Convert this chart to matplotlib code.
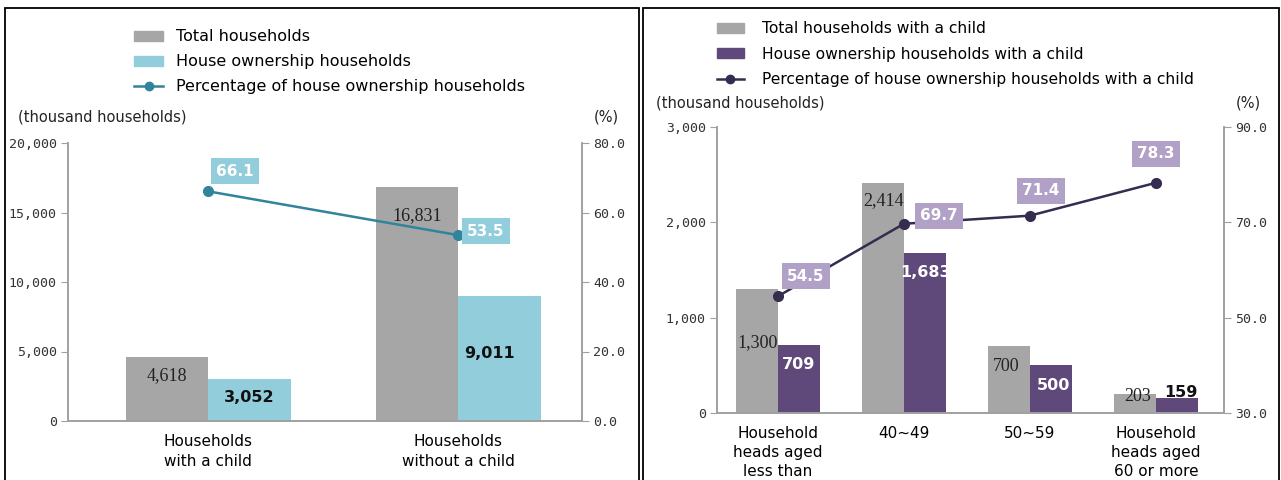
import numpy as np
import matplotlib.pyplot as plt
from matplotlib.patches import Patch, Rectangle
from matplotlib.lines import Line2D

# Left panel: households with / without a child
cats_l = ['Households\nwith a child', 'Households\nwithout a child']
total_l = [4618, 16831]
own_l = [3052, 9011]
pct_l = [66.1, 53.5]

# Right panel: households with a child by age of household head
cats_r = ['Household\nheads aged\nless than', '40~49', '50~59', 'Household\nheads aged\n60 or more']
total_r = [1300, 2414, 700, 203]
own_r = [709, 1683, 500, 159]
pct_r = [54.5, 69.7, 71.4, 78.3]

GRAY = '#a6a6a6'
CYAN = '#92cddc'
TEAL = '#31849b'
PURPLE = '#5f497a'
LAVENDER = '#b2a1c7'
NAVY = '#352c4f'
AXC = '#a0a0a0'

plt.rcParams['font.family'] = ['DejaVu Sans']
TICKFONT = 'DejaVu Sans Mono'

fig = plt.figure(figsize=(12.81, 4.80), dpi=100)

# panel frames
px = lambda x, y: (x / 1281, 1 - y / 480)
for x0, x1 in [(5, 639), (643, 1279)]:
    fig.patches.append(Rectangle(px(x0, 530), (x1 - x0) / 1281, 522 / 480,
                                 transform=fig.transFigure, fill=False,
                                 edgecolor='black', linewidth=1.3))


def style_axes(ax, ax2, spacing):
    for a in (ax, ax2):
        a.spines['top'].set_visible(False)
        for s in ('left', 'right', 'bottom'):
            a.spines[s].set_color(AXC)
            a.spines[s].set_linewidth(1.2)
    ax.tick_params(axis='y', direction='out', length=5, color=AXC, pad=3)
    ax2.tick_params(axis='y', direction='out', length=5, color=AXC, pad=3)
    ax.tick_params(axis='x', length=0, pad=9, labelsize=11)
    for lab in ax.get_xticklabels():
        lab.set_linespacing(spacing)
    for lab in ax.get_yticklabels() + ax2.get_yticklabels():
        lab.set_family(TICKFONT)
        lab.set_fontsize(9.5)
        lab.set_color('#333333')


def add_label(ax, x, y, text, dx, dy, **kw):
    ax.annotate(text, xy=(x, y), xytext=(dx * 0.72, dy * 0.72),
                textcoords='offset points', ha='center', va='center', **kw)


# ---------------- left panel ----------------
axL = fig.add_axes([68 / 1281, 1 - 421 / 480, 514 / 1281, 278 / 480])
axL2 = axL.twinx()
xl = np.arange(len(cats_l))
w = 0.33
axL.bar(xl - w / 2, total_l, w, color=GRAY)
axL.bar(xl + w / 2, own_l, w, color=CYAN)
axL.set_ylim(0, 20000)
axL.set_yticks(range(0, 20001, 5000))
axL.set_yticklabels([f'{v:,}' for v in range(0, 20001, 5000)])
axL.set_xlim(-0.56, 1.496)
axL.set_xticks(xl)
axL.set_xticklabels(cats_l)
axL2.plot(xl, pct_l, color=TEAL, linewidth=1.8, marker='o', markersize=7)
axL2.set_ylim(0, 80)
axL2.set_yticks(np.arange(0, 81, 20))
axL2.set_yticklabels([f'{v:.1f}' for v in np.arange(0, 81, 20)])
style_axes(axL, axL2, 1.45)

tot_off_l = [(0, -19), (0, -29)]
own_off_l = [(0, -19), (-10, -58)]
pct_off_l = [(27, 20), (28, 4)]
for i in range(len(cats_l)):
    add_label(axL, xl[i] - w / 2, total_l[i], f'{total_l[i]:,}', *tot_off_l[i],
              family='Liberation Serif', fontsize=13, color='#222222')
    add_label(axL, xl[i] + w / 2, own_l[i], f'{own_l[i]:,}', *own_off_l[i],
              fontsize=11.5, fontweight='bold', color='#111111')
    add_label(axL2, xl[i], pct_l[i], f'{pct_l[i]:.1f}', *pct_off_l[i],
              fontsize=11, fontweight='bold', color='white',
              bbox=dict(boxstyle='square,pad=0.35', facecolor=CYAN, edgecolor='none'))

fig.text(18 / 1281, 1 - 117 / 480, '(thousand households)', fontsize=10.5,
         ha='left', va='center', color='#222222')
fig.text(606 / 1281, 1 - 117 / 480, '(%)', fontsize=10.5, ha='center',
         va='center', color='#222222')

handlesL = [Patch(color=GRAY), Patch(color=CYAN),
            Line2D([], [], color=TEAL, linewidth=1.8, marker='o', markersize=6)]
fig.legend(handlesL, ['Total households', 'House ownership households',
                      'Percentage of house ownership households'],
           loc='upper left', bbox_to_anchor=(128 / 1281, 1 - 23 / 480),
           frameon=False, fontsize=11.5, handlelength=1.8, handleheight=0.6,
           labelspacing=0.62, handletextpad=0.8, borderaxespad=0)

# ---------------- right panel ----------------
axR = fig.add_axes([717 / 1281, 1 - 413 / 480, 507 / 1281, 286 / 480])
axR2 = axR.twinx()
xr = np.arange(len(cats_r))
axR.bar(xr - w / 2, total_r, w, color=GRAY)
axR.bar(xr + w / 2, own_r, w, color=PURPLE)
axR.set_ylim(0, 3000)
axR.set_yticks(range(0, 3001, 1000))
axR.set_yticklabels([f'{v:,}' for v in range(0, 3001, 1000)])
axR.set_xlim(-0.484, 3.54)
axR.set_xticks(xr)
axR.set_xticklabels(cats_r, va='top')
axR2.plot(xr, pct_r, color=NAVY, linewidth=1.8, marker='o', markersize=7)
axR2.set_ylim(30, 90)
axR2.set_yticks(np.arange(30, 91, 20))
axR2.set_yticklabels([f'{v:.1f}' for v in np.arange(30, 91, 20)])
style_axes(axR, axR2, 1.35)

tot_off_r = [(0, -54), (0, -18), (-3, -20), (3, -3)]
own_off_r = [(0, -19), (1, -20), (3, -20), (4, 5)]
own_col_r = ['white', 'white', 'white', '#111111']
pct_off_r = [(28, 20), (35, 8), (11, 25), (0, 29)]
for i in range(len(cats_r)):
    add_label(axR, xr[i] - w / 2, total_r[i], f'{total_r[i]:,}', *tot_off_r[i],
              family='Liberation Serif', fontsize=13, color='#222222')
    add_label(axR, xr[i] + w / 2, own_r[i], f'{own_r[i]:,}', *own_off_r[i],
              fontsize=11.5, fontweight='bold', color=own_col_r[i])
    add_label(axR2, xr[i], pct_r[i], f'{pct_r[i]:.1f}', *pct_off_r[i],
              fontsize=11, fontweight='bold', color='white',
              bbox=dict(boxstyle='square,pad=0.35', facecolor=LAVENDER, edgecolor='none'))

fig.text(656 / 1281, 1 - 103 / 480, '(thousand households)', fontsize=10.5,
         ha='left', va='center', color='#222222')
fig.text(1248 / 1281, 1 - 103 / 480, '(%)', fontsize=10.5, ha='center',
         va='center', color='#222222')

handlesR = [Patch(color=GRAY), Patch(color=PURPLE),
            Line2D([], [], color=NAVY, linewidth=1.8, marker='o', markersize=6)]
fig.legend(handlesR, ['Total households with a child',
                      'House ownership households with a child',
                      'Percentage of house ownership households with a child'],
           loc='upper left', bbox_to_anchor=(711 / 1281, 1 - 15 / 480),
           frameon=False, fontsize=11.2, handlelength=1.7, handleheight=0.6,
           labelspacing=0.68, handletextpad=1.2, borderaxespad=0)

fig.savefig('out.png', dpi=100)
